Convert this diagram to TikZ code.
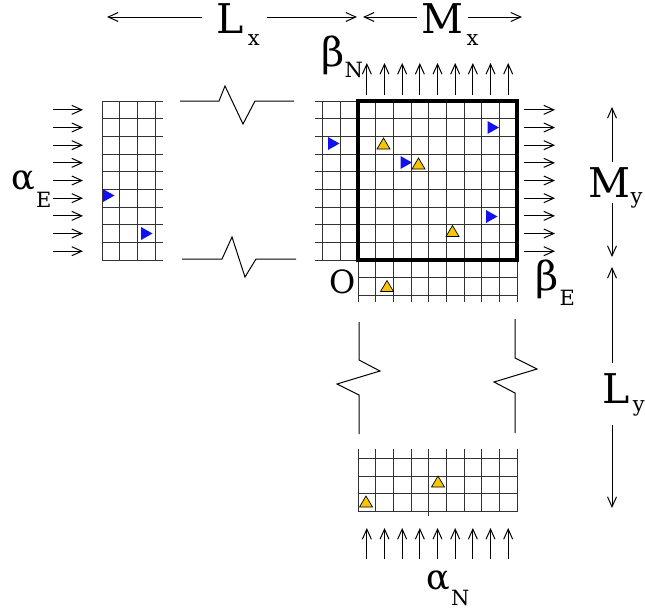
\documentclass[tikz,border=0pt]{standalone}
\usepackage{fontspec}
\setmainfont{DejaVu Serif}
\usepackage{tikz}
\usetikzlibrary{arrows.meta,calc}
\definecolor{gridink}{HTML}{333333}
\definecolor{markblue}{HTML}{1010F0}
\definecolor{markgold}{HTML}{F7C600}

\begin{document}
\begin{tikzpicture}[x=1pt,y=-1pt,
 gl/.style={draw=gridink,line width=1pt},
 frame/.style={draw=black,line width=3.4pt},
 brk/.style={draw=black,line width=1pt},
 flux/.style={-{Straight Barb[length=10pt,width=9pt]},line width=1pt},
 dim/.style={-{Straight Barb[length=10pt,width=9pt]},line width=1pt},
 lbl/.style={inner sep=0pt,anchor=base west,font=\fontsize{41}{41}\selectfont},
 glbl/.style={lbl,font=\fontsize{35}{35}\selectfont},
 blbl/.style={lbl,font=\fontsize{40}{40}\selectfont},
 sublbl/.style={inner sep=0pt,anchor=base west,font=\fontsize{21}{21}\selectfont},
 bmark/.pic={\fill[markblue] (-5.5,-6.5) -- (6,0) -- (-5.5,6.5) -- cycle;},
 ymark/.pic={\filldraw[fill=markgold,draw=black,line width=0.7pt] (-6.5,5) -- (6.5,5) -- (0,-6) -- cycle;}]
\useasboundingbox (0,0) rectangle (645,611);
\def\cw{17.67}
% main block with its stubs
\foreach \i in {0,...,9} \draw[gl] ({358+\i*\cw},101) -- ({358+\i*\cw},302);
\foreach \i in {-2,-1} \draw[gl] ({358+\i*\cw},101) -- ({358+\i*\cw},260);
\foreach \k in {0,...,9} \draw[gl] (315,{101+\k*\cw}) -- (517,{101+\k*\cw});
\foreach \k in {10,11} \draw[gl] (358,{101+\k*\cw}) -- (517,{101+\k*\cw});
\draw[frame] (358,101) rectangle (517,260);
% west block
\foreach \i in {0,...,3} \draw[gl] ({102+\i*\cw},101) -- ({102+\i*\cw},260);
\foreach \k in {0,...,9} \draw[gl] (102,{101+\k*\cw}) -- (163,{101+\k*\cw});
% south block
\foreach \i in {0,...,9} \draw[gl] ({358+\i*\cw},449) -- ({358+\i*\cw},511.5);
\draw[gl] ({358+4*\cw},511.5) -- ({358+4*\cw},516);
\foreach \k in {0,...,3} \draw[gl] (358,{458.5+\k*\cw}) -- (517,{458.5+\k*\cw});
% breaks
\draw[brk] (180,101) -- (219,101) -- (225,86) -- (243,124) -- (255,101) -- (294,101);
\draw[brk] (182,259) -- (222,259) -- (232,237) -- (245,277) -- (256,259) -- (296,259);
\draw[brk] (359,322) -- (359,360) -- (380,371) -- (337,384) -- (359,395) -- (359,434);
\draw[brk] (515,319) -- (515,358) -- (537,369) -- (494,382) -- (515,393) -- (515,433);
% boundary fluxes
\foreach \k in {0,...,8} {
 \draw[flux] (53,{101+(\k+.5)*\cw}) -- ++(30,0);
 \draw[flux] (524,{101+(\k+.5)*\cw}) -- ++(31,0);
 \draw[flux] ({358+(\k+.5)*\cw},95) -- ++(0,-32);
 \draw[flux] ({358+(\k+.5)*\cw},559) -- ++(0,-31);
}
% markers
\foreach \p in {(333.5,143.5),(493,127.5),(406,162.5),(491.5,216.5),(108.5,195.5),(146.5,233.5)}
 \pic at \p {bmark};
\foreach \p in {(383.5,144),(418.5,164),(452.5,231.5),(387,286.5),(366,502),(438,482)}
 \pic at \p {ymark};
% labels
\node[lbl] (lx) at (216,33) {L};
\node[sublbl] (lxs) at ([xshift=4pt,yshift=-12pt]lx.base east) {x};
\node[lbl] (mx) at (421,33) {M};
\node[sublbl] (mxs) at ([xshift=3pt,yshift=-12pt]mx.base east) {x};
\node[lbl] (my) at (588,197) {M};
\node[sublbl] (mys) at ([yshift=-6pt]my.base east) {y};
\node[lbl] (ly) at (602,403) {L};
\node[sublbl] (lys) at ([xshift=3pt,yshift=-8pt]ly.base east) {y};
\node[glbl] (aE) at (11,189) {α};
\node[sublbl] (aEs) at ([xshift=1pt,yshift=-18pt]aE.base east) {E};
\node[glbl] (aN) at (426,589) {α};
\node[sublbl] (aNs) at ([xshift=1pt,yshift=-16pt]aN.base east) {N};
\node[blbl] (bN) at (321,66) {β};
\node[sublbl] (bNs) at ([xshift=0pt,yshift=-11pt]bN.base east) {N};
\node[blbl] (bE) at (535,290) {β};
\node[sublbl] (bEs) at ([xshift=1pt,yshift=-15pt]bE.base east) {E};
\node[lbl,font=\fontsize{32}{32}\selectfont] (orig) at (329,293) {O};
% extents
\coordinate (lxw) at (107,17); \coordinate (lxe) at (357,17);
\coordinate (mxw) at (363,17); \coordinate (mxe) at (522,17);
\coordinate (myn) at (612,107); \coordinate (mysth) at (612,257);
\coordinate (lyn) at (612,267); \coordinate (lysth) at (612,508);
\draw[dim,shorten <=14pt] (lx.west |- lxw) -- (lxw);
\draw[dim,shorten <=7pt] (lxs.east |- lxe) -- (lxe);
\draw[dim,shorten <=4pt] (mx.west |- mxw) -- (mxw);
\draw[dim,shorten <=5pt] (mx.east |- mxe) -- (mxe);
\draw[dim,shorten <=5pt] (my.north -| myn) -- (myn);
\draw[dim,shorten <=6pt] (my.south -| mysth) -- (mysth);
\draw[dim,shorten <=10pt] (ly.north -| lyn) -- (lyn);
\draw[dim,shorten <=22pt] (ly.south -| lysth) -- (lysth);
\end{tikzpicture}
\end{document}
